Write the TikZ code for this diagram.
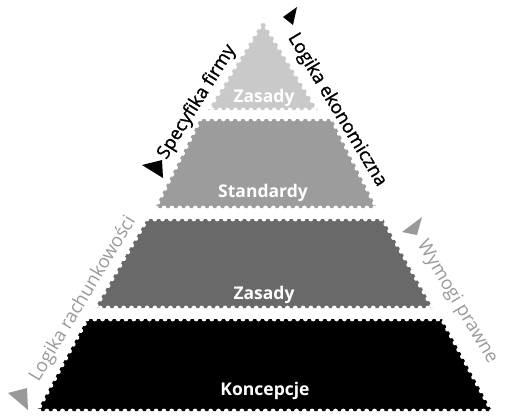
\documentclass[tikz,border=0pt]{standalone}
\usepackage{fontspec}
\setmainfont{Open Sans}
\newfontfamily\sideheavy[FakeBold=1.2]{Open Sans}
\usetikzlibrary{decorations.markings}

\definecolor{tierone}{gray}{0.79}
\definecolor{tiertwo}{gray}{0.61}
\definecolor{tierthree}{gray}{0.41}
\definecolor{tierfour}{gray}{0}
\definecolor{sidegray}{gray}{0.60}

\tikzset{
  perforated/.style={postaction={decorate,decoration={markings,
      mark=between positions 0 and 1 step 7.8pt with {\fill[white] (0,0) circle (2.4pt);}}}},
  tierlabel/.style={text=white,inner sep=0pt,font=\bfseries\fontsize{17.5}{20}\selectfont},
  sidelabel/.style={inner sep=0pt,font=\fontsize{18.5}{21}\selectfont},
  sidelabeldark/.style={inner sep=0pt,font=\sideheavy\fontsize{18.5}{21}\selectfont},
}

\begin{document}
\begin{tikzpicture}[x=1pt,y=-1pt]
\useasboundingbox (0,0) rectangle (506,415);

% pyramid tiers, each with perforated (stamp-like) edges
\fill[tierone,perforated]   (263,21) -- (318,110) -- (208,110) -- cycle;
\fill[tiertwo,perforated]   (200,119) -- (332,119) -- (377,208) -- (155,208) -- cycle;
\fill[tierthree,perforated] (147,219) -- (383,219) -- (433,308) -- (95,308) -- cycle;
\fill[tierfour,perforated]  (87,319) -- (442,319) -- (492,411) -- (37,411) -- cycle;

% tier captions
\node[tierlabel] (tone)   at (264,98)  {Zasady};
\node[tierlabel] (ttwo)   at (263,193) {Standardy};
\node[tierlabel] (tthree) at (264,295) {Zasady};
\node[tierlabel] (tfour)  at (265,391) {Koncepcje};

% side captions
\node[sidelabeldark,rotate=58]  (spec) at (197,102) {Specyfika firmy};
\node[sidelabeldark,rotate=-59] (econ) at (337,110) {Logika ekonomiczna};
\node[sidelabel,rotate=59,text=sidegray]  (acct) at (83,299)  {Logika rachunkowości};
\node[sidelabel,rotate=-59,text=sidegray] (law)  at (457,302) {Wymogi prawne};

% direction markers
\fill[black]    (142,165) -- (162,160) -- (163,178) -- cycle;
\fill[black]    (283,17) -- (297,7) -- (293,25) -- cycle;
\fill[sidegray] (8,393) -- (27,388) -- (28,410) -- cycle;
\fill[sidegray] (402,232) -- (422,217) -- (417,235) -- cycle;
\end{tikzpicture}
\end{document}
